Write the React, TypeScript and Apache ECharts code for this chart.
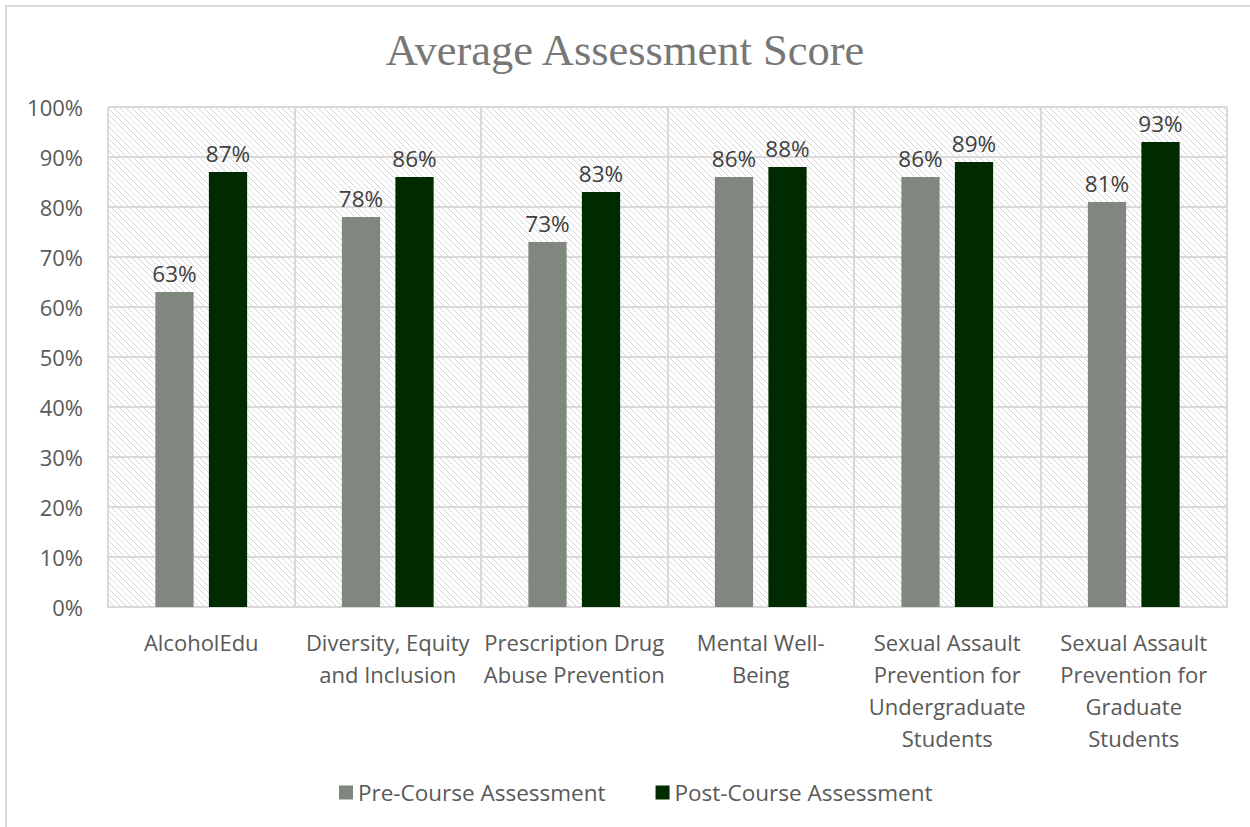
import React, { useEffect, useRef } from "react";
import * as echarts from "echarts";

const categories = [
  "AlcoholEdu",
  "Diversity, Equity\nand Inclusion",
  "Prescription Drug\nAbuse Prevention",
  "Mental Well-\nBeing",
  "Sexual Assault\nPrevention for\nUndergraduate\nStudents",
  "Sexual Assault\nPrevention for\nGraduate\nStudents",
];
const preCourse = [63, 78, 73, 86, 86, 81];
const postCourse = [87, 86, 83, 88, 89, 93];
const seriesNames = ["Pre-Course Assessment", "Post-Course Assessment"];
const title = "Average Assessment Score";

function makePattern(): HTMLCanvasElement {
  const c = document.createElement("canvas");
  c.width = 6;
  c.height = 6;
  const ctx = c.getContext("2d")!;
  ctx.fillStyle = "#ffffff";
  ctx.fillRect(0, 0, 6, 6);
  ctx.strokeStyle = "#d6d6d6";
  ctx.lineWidth = 1;
  ctx.beginPath();
  ctx.moveTo(-1, -1);
  ctx.lineTo(7, 7);
  ctx.stroke();
  return c;
}

export default function App() {
  const ref = useRef<HTMLDivElement>(null);
  useEffect(() => {
    if (!ref.current) return;
    const chart = echarts.init(ref.current, undefined, { renderer: "svg" });
    const font = "'Open Sans', 'Noto Sans', sans-serif";
    const pattern = makePattern();
    const labelStyle = {
      show: true,
      position: "top",
      distance: 7,
      formatter: "{c}%",
      fontFamily: font,
      fontSize: 22.5,
      color: "#404040",
    };
    chart.setOption({
      animation: false,
      backgroundColor: "#ffffff",
      title: {
        text: title,
        left: "center",
        top: 22,
        textStyle: {
          fontFamily: "'Liberation Serif', serif",
          fontSize: 44.5,
          fontWeight: "normal",
          color: "#777777",
        },
      },
      legend: {
        bottom: 18,
        left: 334,
        itemWidth: 14,
        itemHeight: 14,
        itemGap: 50,
        icon: "rect",
        textStyle: {
          fontFamily: font,
          fontSize: 22.5,
          color: "#595959",
        },
        data: seriesNames,
      },
      grid: {
        left: 108,
        right: 23,
        top: 107,
        bottom: 220,
        show: true,
        borderWidth: 0,
        backgroundColor: { image: pattern, repeat: "repeat" },
      },
      xAxis: {
        type: "category",
        data: categories,
        axisTick: { show: false },
        axisLine: { lineStyle: { color: "#d9d9d9", width: 2 } },
        splitLine: { show: true, lineStyle: { color: "#d9d9d9", width: 2 } },
        axisLabel: {
          interval: 0,
          margin: 19,
          fontFamily: font,
          fontSize: 22,
          lineHeight: 32,
          color: "#595959",
        },
      },
      yAxis: {
        type: "value",
        min: 0,
        max: 100,
        interval: 10,
        axisLine: { show: false },
        axisTick: { show: false },
        splitLine: { lineStyle: { color: "#d9d9d9", width: 2 } },
        axisLabel: {
          formatter: "{value}%",
          margin: 25,
          fontFamily: font,
          fontSize: 22,
          color: "#595959",
        },
      },
      series: [
        {
          name: seriesNames[0],
          type: "bar",
          data: preCourse,
          barWidth: "20.5%",
          barGap: "40%",
          itemStyle: { color: "#7f877f" },
          label: labelStyle,
        },
        {
          name: seriesNames[1],
          type: "bar",
          data: postCourse,
          barWidth: "20.5%",
          itemStyle: { color: "#002a00" },
          label: labelStyle,
        },
      ],
      graphic: [
        {
          type: "rect",
          shape: { x: 6, y: 6, width: 1300, height: 900 },
          style: { fill: "none", stroke: "#d9d9d9", lineWidth: 2 },
          silent: true,
        },
      ],
    });
    return () => chart.dispose();
  }, []);
  return (
    <div
      ref={ref}
      style={{ position: "fixed", left: 0, top: 0, width: 1250, height: 827 }}
    />
  );
}
